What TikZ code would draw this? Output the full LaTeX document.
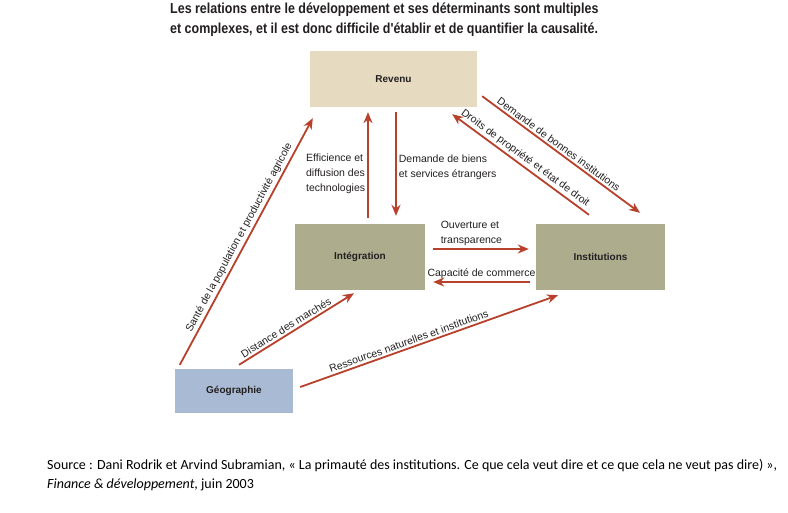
\documentclass[tikz,border=0pt]{standalone}
\usepackage{fontspec}
\usepackage{xcolor}
\usetikzlibrary{positioning, arrows.meta, calc}
\setmainfont{Liberation Sans}
\newfontfamily\titlefont{Liberation Sans}[FakeStretch=0.86]
\newfontfamily\notefont{Carlito}
\definecolor{beigeRev}{HTML}{E6DAC0}
\definecolor{oliveBox}{HTML}{ADAD8E}
\definecolor{blueGeo}{HTML}{A9BBD4}
\definecolor{arrowRed}{HTML}{B8412C}
\definecolor{inkDark}{HTML}{231F20}

\begin{document}
\begin{tikzpicture}[x=1pt,y=-1pt]
    \tikzset{box/.style={draw=none,inner sep=0pt,align=center,font=\fontsize{10}{12}\selectfont\bfseries,text=inkDark}, arr/.style={-{Stealth[length=11pt,width=9pt]},line width=1.8pt,draw=arrowRed}, rarr/.style={{Stealth[length=11pt,width=9pt]}-,line width=1.8pt,draw=arrowRed}, lab/.style={font=\fontsize{10.5}{15}\selectfont,text=inkDark,inner sep=2pt}}
    \useasboundingbox[fill=white] (0,0) rectangle (788,512);
    \node[anchor=north west,inner sep=0pt,align=left,font=\titlefont\fontsize{14.5}{20}\selectfont\bfseries,text=inkDark] (title) at (170,3) {Les relations entre le développement et ses déterminants sont multiples\\et complexes, et il est donc difficile d'établir et de quantifier la causalité.};
    \node[box,fill=beigeRev,minimum width=167pt,minimum height=56pt] (rev) at (393.5,79) {Revenu};
    \node[box,fill=oliveBox,minimum width=130pt,minimum height=66pt] (integ) at (360,257) {Intégration};
    \node[box,fill=oliveBox,minimum width=129pt,minimum height=66pt] (inst) at (600.5,257) {Institutions};
    \node[box,fill=blueGeo,minimum width=118pt,minimum height=44pt] (geo) at (234,391) {Géographie};
    % geographie vers les trois autres
    \draw[arr] ($(geo.north west)+(5,-4)$) -- node[lab,sloped,above,pos=0.5] {Santé de la population et productivité agricole} ($(rev.south west)+(3,11)$);
    \draw[arr] ($(geo.north)+(5,-4)$) -- node[lab,sloped,above,pos=0.44] {Distance des marchés} ($(integ.south)+(-6,3)$);
    \draw[arr] ($(geo.east)+(7,-4)$) -- node[lab,sloped,above,pos=0.43] {Ressources naturelles et institutions} ($(inst.south)+(-42.5,5)$);
    % revenu et integration
    \draw[arr] ($(integ.north)+(8,-6)$) -- node[lab,left,align=left,pos=0.42] {Efficience et\\diffusion des\\technologies} ($(rev.south)+(-25.5,5)$);
    \draw[arr] ($(rev.south)+(2.5,5)$) -- node[lab,right,align=left,pos=0.53] {Demande de biens\\et services étrangers} ($(integ.north)+(36,-8)$);
    % revenu et institutions
    \draw[arr] ($(rev.south east)+(5,-11)$) -- node[lab,sloped,above,pos=0.46] {Demande de bonnes institutions} ($(inst.north)+(39.5,-11)$);
    \draw[rarr] ($(rev.south east)+(-25,7)$) -- node[lab,sloped,above,pos=0.5] {Droits de propriété et état de droit} ($(inst.north)+(-11.5,-9)$);
    % integration et institutions
    \draw[arr] ($(integ.east)+(8,-8)$) -- node[lab,above,align=left,pos=0.4] {Ouverture et\\transparence} ($(inst.west)+(-7,-8)$);
    \draw[arr] ($(inst.west)+(-6,25)$) -- node[lab,above,pos=0.5] {Capacité de commerce} ($(integ.east)+(8,25)$);
    \node[anchor=north west,inner sep=0pt,align=left,font=\notefont\fontsize{14}{19}\selectfont] (source) at (47,459) {Source : Dani Rodrik et Arvind Subramian, « La primauté des institutions. Ce que cela veut dire et ce que cela ne veut pas dire) »,\\\textit{Finance \& développement}, juin 2003};
\end{tikzpicture}
\end{document}
